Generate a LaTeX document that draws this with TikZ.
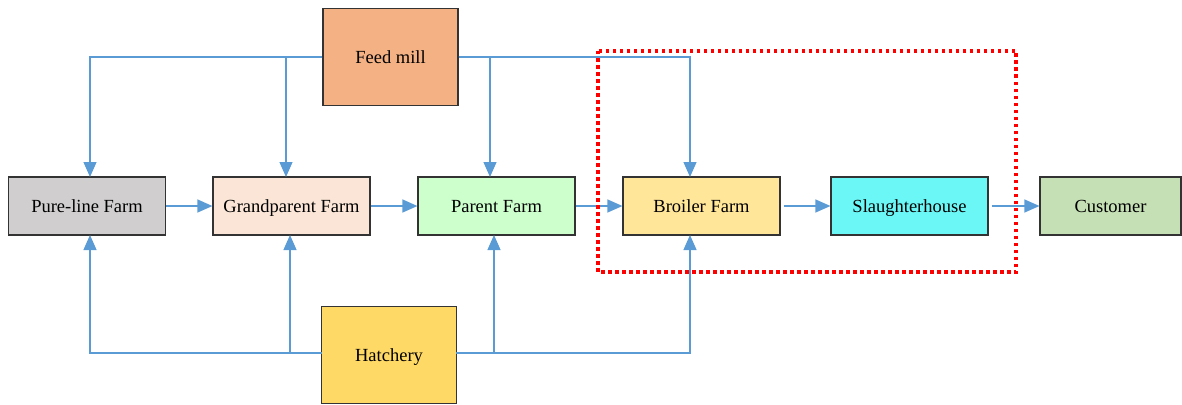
\documentclass[tikz,border=0pt]{standalone}
\usepackage{fontspec}
\setmainfont{Liberation Serif}
\usetikzlibrary{arrows.meta}
\definecolor{flow}{HTML}{5B9BD5}
\definecolor{cfeed}{HTML}{F4B183}
\definecolor{cpure}{HTML}{D0CECE}
\definecolor{cgrand}{HTML}{FBE5D6}
\definecolor{cparent}{HTML}{CCFFCC}
\definecolor{cbroiler}{HTML}{FFE699}
\definecolor{cslaughter}{HTML}{6CF7F7}
\definecolor{ccustomer}{HTML}{C5E0B4}
\definecolor{chatch}{HTML}{FFD966}
\tikzset{
  box/.style={draw=black!80, line width=1.2pt, minimum width=157pt, minimum height=58pt, inner sep=0pt, font=\fontsize{18.5}{22}\selectfont, text height=13pt, text depth=0.5pt},
  bigbox/.style={box, minimum width=135pt, minimum height=97pt},
  flowline/.style={draw=flow, line width=1.2pt, -{Triangle[length=15pt,width=13pt]}},
  zone/.style={draw=red, line width=3.5pt, dash pattern=on 3.5pt off 3.5pt}
}
\begin{document}
\begin{tikzpicture}[x=1pt,y=-1pt]
\useasboundingbox (0,0) rectangle (1182,404);
\node[bigbox, fill=cfeed] (feed) at (390.5,57) {Feed mill};
\node[bigbox, fill=chatch] (hatch) at (389,355) {Hatchery};
\node[box, fill=cpure] (pure) at (87,206) {Pure-line Farm};
\node[box, fill=cgrand] (grand) at (291.5,206) {Grandparent Farm};
\node[box, fill=cparent] (parent) at (496.5,206) {Parent Farm};
\node[box, fill=cbroiler] (broiler) at (701.5,206) {Broiler Farm};
\node[box, fill=cslaughter] (slaughter) at (909.5,206) {Slaughterhouse};
\node[box, fill=ccustomer, minimum width=141pt] (customer) at (1110.5,206) {Customer};
\coordinate (pureN) at (90,177);
\coordinate (grandN) at (286,177);
\coordinate (parentN) at (490,177);
\coordinate (broilerN) at (690,177);
\coordinate (pureS) at (90,235);
\coordinate (grandS) at (290,235);
\coordinate (parentS) at (494,235);
\coordinate (broilerS) at (690,235);
\coordinate (hatchW) at (322,353);
\coordinate (hatchE) at (456,353);
\draw[flowline] (feed.west) -| (pureN);
\draw[flowline] (feed.west) -| (grandN);
\draw[flowline] (feed.east) -| (parentN);
\draw[flowline] (feed.east) -| (broilerN);
\draw[flowline] (hatchW) -| (pureS);
\draw[flowline] (hatchW) -| (grandS);
\draw[flowline] (hatchE) -| (parentS);
\draw[flowline] (hatchE) -| (broilerS);
\draw[flowline] (pure.east) -- (grand.west);
\draw[flowline] (grand.east) -- (parent.west);
\draw[flowline] (parent.east) -- (broiler.west);
\draw[flowline] ([xshift=3pt]broiler.east) -- (slaughter.west);
\draw[flowline] ([xshift=3pt]slaughter.east) -- (customer.west);
\draw[zone] (598,51) rectangle (1016,272);
\end{tikzpicture}
\end{document}
